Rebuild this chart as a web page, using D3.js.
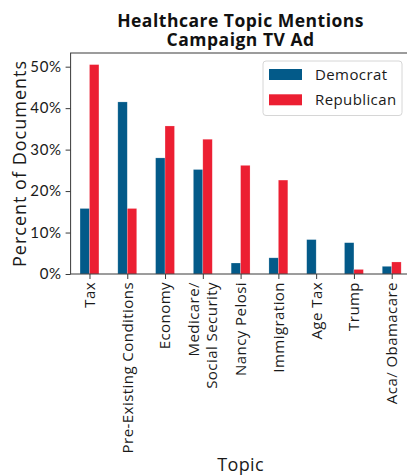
<!DOCTYPE html>
<html>
<head>
<meta charset="utf-8">
<script src="https://cdn.jsdelivr.net/npm/d3@7"></script>
<style>
  html, body { margin: 0; padding: 0; background: #fff; }
  svg { display: block; font-family: "Open Sans", Lato, sans-serif; }
</style>
</head>
<body>
<script>
// Topic categories and the share of documents (percent) for each party
const topics = ["Tax", "Pre-Existing Conditions", "Economy", "Medicare/\nSocial Security",
  "Nancy Pelosi", "Immigration", "Age Tax", "Trump", "Aca/ Obamacare"];
const democrat = [15.8, 41.5, 28.0, 25.2, 2.65, 3.9, 8.3, 7.55, 1.85];
const republican = [50.5, 15.8, 35.7, 32.5, 26.2, 22.65, 0, 1.1, 2.9];
const seriesNames = ["Democrat", "Republican"];
const yTicks = [0, 10, 20, 30, 40, 50];

const W = 407, H = 476;
const colors = { Democrat: "#035a89", Republican: "#ec1f32" };
const m = { left: 70.6, top: 53, right: 410.6, bottom: 274 };
const fs = 15;

const svg = d3.select("body").append("svg").attr("width", W).attr("height", H);

const x = d3.scaleLinear().domain([-0.5, topics.length - 0.5]).range([m.left, m.right]);
const y = d3.scaleLinear().domain([0, 53.3]).range([m.bottom, m.top]);
const barW = x(0.25) - x(0);

const series = [
  { name: "Democrat", values: democrat, offset: -0.125 },
  { name: "Republican", values: republican, offset: 0.125 }
];

// bars
series.forEach(s => {
  svg.append("g").selectAll("rect").data(s.values).join("rect")
    .attr("x", (d, i) => x(i + s.offset) - barW / 2)
    .attr("width", barW)
    .attr("y", d => y(d))
    .attr("height", d => y(0) - y(d))
    .attr("fill", colors[s.name])
    .attr("stroke", "#ffffff")
    .attr("stroke-opacity", 0.35)
    .attr("stroke-width", 0.6);
});

// frame
svg.append("rect")
  .attr("x", m.left).attr("y", m.top)
  .attr("width", m.right - m.left).attr("height", m.bottom - m.top)
  .attr("fill", "none").attr("stroke", "#3a3a3a").attr("stroke-width", 1);

// y axis
const yAxis = d3.axisLeft(y).tickValues(yTicks).tickFormat(d => d + "%").tickSize(5).tickPadding(4);
const gy = svg.append("g").attr("transform", `translate(${m.left},0)`).call(yAxis);
gy.select(".domain").remove();
gy.selectAll("line").attr("stroke", "#3a3a3a");
gy.selectAll("text").attr("font-size", fs).attr("font-family", "Lato, sans-serif")
  .attr("letter-spacing", 0.6).attr("fill", "#1a1a1a");

// x axis
const xAxis = d3.axisBottom(x).tickValues(d3.range(topics.length)).tickFormat("").tickSize(5);
const gx = svg.append("g").attr("transform", `translate(0,${m.bottom})`).call(xAxis);
gx.select(".domain").remove();
gx.selectAll("line").attr("stroke", "#3a3a3a");

// rotated category labels
topics.forEach((t, i) => {
  const lines = t.split("\n");
  const lh = 17.5;
  const g = svg.append("text")
    .attr("transform", `translate(${x(i)},${m.bottom + 8}) rotate(-90)`)
    .attr("text-anchor", "end")
    .attr("font-size", fs)
    .attr("letter-spacing", 0.45)
    .attr("fill", "#1a1a1a");
  lines.forEach((ln, k) => {
    g.append("tspan")
      .attr("x", 0)
      .attr("y", (k - (lines.length - 1) / 2) * lh)
      .attr("dy", "0.36em")
      .text(ln);
  });
});

// axis titles
svg.append("text")
  .attr("x", (m.left + m.right) / 2).attr("y", 471)
  .attr("text-anchor", "middle").attr("font-size", 18).attr("letter-spacing", 0.4)
  .attr("fill", "#1a1a1a")
  .text("Topic");
svg.append("text")
  .attr("transform", `translate(26,${(m.top + m.bottom) / 2}) rotate(-90)`)
  .attr("text-anchor", "middle").attr("font-size", 18).attr("letter-spacing", 1.0)
  .attr("fill", "#1a1a1a")
  .text("Percent of Documents");

// chart title
const title = svg.append("text")
  .attr("text-anchor", "middle").attr("font-size", 17.5).attr("font-weight", "bold")
  .attr("letter-spacing", 0.5).attr("fill", "#111");
title.append("tspan").attr("x", (m.left + m.right) / 2).attr("y", 26.5).text("Healthcare Topic Mentions");
title.append("tspan").attr("x", (m.left + m.right) / 2).attr("y", 46).text("Campaign TV Ad");

// legend
const lg = svg.append("g");
lg.append("rect")
  .attr("x", 263).attr("y", 61).attr("width", 139).attr("height", 54.5).attr("rx", 3)
  .attr("fill", "#fff").attr("fill-opacity", 0.8)
  .attr("stroke", "#d6d6d6").attr("stroke-width", 1);
seriesNames.forEach((n, k) => {
  const yy = 69 + k * 25.3;
  lg.append("rect").attr("x", 269).attr("y", yy).attr("width", 33).attr("height", 11)
    .attr("fill", colors[n]);
  lg.append("text").attr("x", 315).attr("y", yy + 5.5).attr("dy", "0.36em")
    .attr("font-size", fs).attr("letter-spacing", 0.4).attr("fill", "#1a1a1a").text(n);
});
</script>
</body>
</html>
